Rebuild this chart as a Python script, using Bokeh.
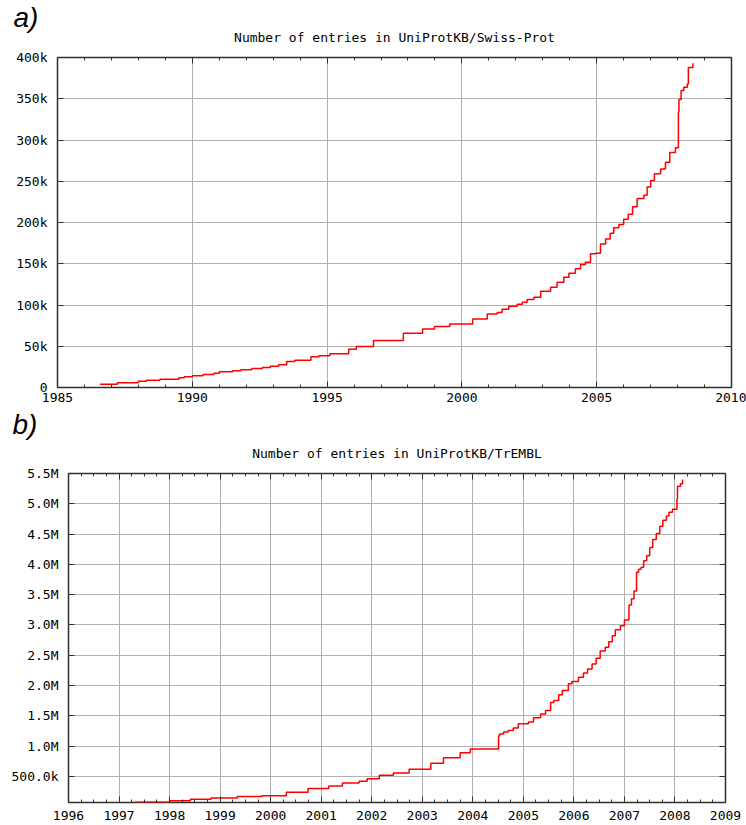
from bokeh.plotting import figure
from bokeh.models import (Range1d, SingleIntervalTicker, FixedTicker, LinearAxis,
                          Title, CustomJSTickFormatter)
from bokeh.embed import file_html
from bokeh.resources import INLINE

# ---------------- data: UniProtKB/Swiss-Prot ----------------
sp_year = [1986.57, 1987.22, 1988.0, 1988.3, 1988.8, 1989.5, 1989.7, 1990.0, 1990.4,
           1990.8, 1991.0, 1991.5, 1991.8, 1992.2, 1992.6, 1992.9, 1993.2, 1993.5,
           1993.8, 1994.4, 1994.7, 1995.1, 1995.8, 1996.08, 1996.72, 1997.83, 1998.54,
           1998.98, 1999.55, 2000.4, 2000.94, 2001.31, 2001.49, 2001.74, 2002.05,
           2002.24, 2002.42, 2002.67, 2002.92, 2003.29, 2003.53, 2003.78, 2003.97,
           2004.21, 2004.4, 2004.58, 2004.77, 2004.96, 2005.14, 2005.33, 2005.5,
           2005.63, 2005.82, 2006.0, 2006.17, 2006.33, 2006.5, 2006.75, 2006.87,
           2007.0, 2007.14, 2007.37, 2007.55, 2007.71, 2007.92, 2008.03, 2008.05,
           2008.13, 2008.23, 2008.36, 2008.4, 2008.57]
sp_entries = [4000, 5700, 7700, 8900, 10000, 11700, 12900, 14100, 15700,
              17400, 19000, 20200, 21400, 23000, 24200, 25900, 27500, 31500,
              33000, 37200, 38400, 40800, 46400, 49700, 57000, 65800, 71000,
              74000, 77000, 83000, 89000, 91000, 95000, 98500, 101000,
              103400, 106700, 109500, 116700, 121600, 127600, 133700, 138500,
              143800, 149000, 151900, 162000, 162800, 174000, 180000, 187000,
              193600, 197600, 204000, 210000, 219000, 229000, 233000, 243000,
              251000, 259000, 265000, 273000, 285000, 290500, 334000, 349000,
              360000, 364000, 368000, 388000, 393000]
sp_yticks = [0, 50000, 100000, 150000, 200000, 250000, 300000, 350000, 400000]
sp_ylabels = ["0", "50k", "100k", "150k", "200k", "250k", "300k", "350k", "400k"]

# ---------------- data: UniProtKB/TrEMBL ----------------
tr_year = [1997.31, 1998.0, 1998.41, 1998.82, 1999.34, 1999.83, 2000.31, 2000.74,
           2001.15, 2001.42, 2001.75, 2001.91, 2002.15, 2002.43, 2002.74, 2003.17,
           2003.42, 2003.75, 2003.95, 2004.51, 2004.53, 2004.61, 2004.7, 2004.8,
           2004.9, 2005.1, 2005.2, 2005.34, 2005.44, 2005.54, 2005.6, 2005.7,
           2005.77, 2005.89, 2005.96, 2006.09, 2006.19, 2006.27, 2006.36, 2006.44,
           2006.52, 2006.62, 2006.69, 2006.76, 2006.82, 2006.92, 2007.0, 2007.09,
           2007.14, 2007.19, 2007.24, 2007.28, 2007.33, 2007.38, 2007.44, 2007.5,
           2007.56, 2007.63, 2007.7, 2007.76, 2007.83, 2007.88, 2007.95, 2008.04,
           2008.05, 2008.11, 2008.15]
tr_entries = [72000, 95000, 120000, 140000, 166000, 180000, 237000, 297000,
              340000, 390000, 418000, 460000, 516000, 556000, 615000, 714000,
              808000, 890000, 950000, 1165000, 1200000, 1230000, 1257000, 1297000,
              1368000, 1395000, 1466000, 1530000, 1586000, 1720000, 1750000, 1845000,
              1916000, 2026000, 2065000, 2137000, 2207000, 2270000, 2355000, 2450000,
              2570000, 2630000, 2720000, 2820000, 2920000, 2986000, 3080000, 3330000,
              3430000, 3560000, 3870000, 3920000, 3950000, 4060000, 4140000, 4280000,
              4410000, 4510000, 4630000, 4730000, 4800000, 4860000, 4910000, 5080000,
              5290000, 5330000, 5400000]
tr_yticks = [500000, 1000000, 1500000, 2000000, 2500000, 3000000, 3500000,
             4000000, 4500000, 5000000, 5500000]
tr_ylabels = ["500.0k", "1.0M", "1.5M", "2.0M", "2.5M", "3.0M", "3.5M",
              "4.0M", "4.5M", "5.0M", "5.5M"]

MONO = "DejaVu Sans Mono"
GRID = "#b0b0b0"
DARK = "#303030"


def style_axis(ax, labels=True):
    ax.axis_line_color = None
    ax.major_tick_in = 6
    ax.major_tick_out = 0
    ax.minor_tick_in = 3
    ax.minor_tick_out = 0
    ax.major_tick_line_color = DARK
    ax.minor_tick_line_color = DARK
    ax.major_label_text_font = MONO
    ax.major_label_text_font_size = "13px"
    ax.major_label_text_color = "black"
    if not labels:
        ax.formatter = CustomJSTickFormatter(code="return ''")
        ax.major_label_standoff = 0
        ax.major_label_text_font_size = "0px"


def make_fig(width, height, xr, yr, borders, xinterval, xminor, yticks, ylabels,
             xs, ys, title, tag, tag_offset, title_standoff, tag_standoff, tag_valign,
             x_standoff):
    left, right, top, bottom = borders
    p = figure(width=width, height=height, x_range=Range1d(*xr), y_range=Range1d(*yr),
               output_backend="svg", toolbar_location=None, title=None,
               min_border_left=left, min_border_right=right,
               min_border_top=top, min_border_bottom=bottom)
    p.background_fill_color = "white"
    p.border_fill_color = "white"
    p.outline_line_color = DARK
    p.outline_line_width = 1.5

    xt = SingleIntervalTicker(interval=xinterval, num_minor_ticks=xminor)
    yt = FixedTicker(ticks=yticks, minor_ticks=[])
    p.xaxis.ticker = xt
    p.yaxis.ticker = yt
    p.xgrid.ticker = xt
    p.ygrid.ticker = yt
    p.yaxis.major_label_overrides = dict(zip(yticks, ylabels))
    for ax in p.xaxis:
        style_axis(ax)
        ax.major_label_standoff = x_standoff
    for ax in p.yaxis:
        style_axis(ax)
        ax.major_label_standoff = 10

    ax_top = LinearAxis(ticker=SingleIntervalTicker(interval=xinterval, num_minor_ticks=xminor))
    style_axis(ax_top, labels=False)
    p.add_layout(ax_top, "above")
    ax_right = LinearAxis(ticker=FixedTicker(ticks=yticks, minor_ticks=[]))
    style_axis(ax_right, labels=False)
    p.add_layout(ax_right, "right")

    p.grid.grid_line_color = GRID
    p.grid.grid_line_width = 1

    p.step(xs, ys, mode="after", line_color="#ff0000", line_width=1.5)

    p.add_layout(Title(text=title, align="center", text_font=MONO, text_font_size="13px",
                       text_font_style="normal", text_color="black",
                       standoff=title_standoff), "above")
    p.add_layout(Title(text=tag, align="left", offset=tag_offset, text_font="Liberation Sans",
                       text_font_size="28px", text_font_style="italic", text_color="black",
                       standoff=tag_standoff, vertical_align=tag_valign), "above")
    return p


p1 = make_fig(746, 408, (1985, 2010), (0, 400000), (57, 15, 57, 21), 5, 5,
              sp_yticks, sp_ylabels, sp_year, sp_entries,
              "Number of entries in UniProtKB/Swiss-Prot", "a)", -44, 26, -36, "bottom", 5)
p2 = make_fig(746, 417, (1996, 2009), (67000, 5500000), (68, 21, 65, 23), 1, 4,
              tr_yticks, tr_ylabels, tr_year, tr_entries,
              "Number of entries in UniProtKB/TrEMBL", "b)", -56, 26, -22, "top", 8)

open("out.html", "w").write(file_html([p1, p2], INLINE))
